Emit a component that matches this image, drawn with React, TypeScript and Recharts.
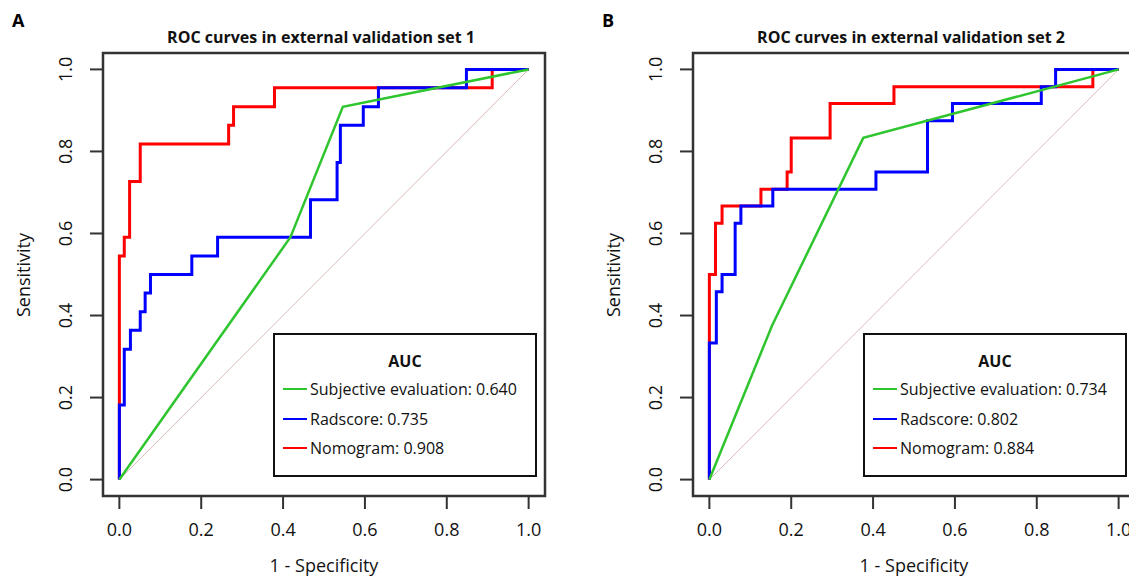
import React from "react";
import { LineChart, Line, XAxis, YAxis, ReferenceArea } from "recharts";

// ROC operating points
const nomoA_fpr = [0, 0, 0.012, 0.025, 0.051, 0.267, 0.279, 0.379, 0.911, 1];
const nomoA_tpr = [0, 0.545, 0.591, 0.727, 0.818, 0.864, 0.909, 0.955, 1, 1];
const radA_fpr = [0, 0, 0.012, 0.027, 0.051, 0.063, 0.076, 0.177, 0.24, 0.467, 0.532, 0.54, 0.596, 0.633, 0.848, 1];
const radA_tpr = [0, 0.182, 0.318, 0.364, 0.409, 0.455, 0.5, 0.545, 0.591, 0.682, 0.773, 0.864, 0.909, 0.955, 1, 1];
const subjA_fpr = [0, 0.418, 0.546, 1];
const subjA_tpr = [0, 0.591, 0.909, 1];

const nomoB_fpr = [0, 0, 0.015, 0.031, 0.126, 0.19, 0.2, 0.295, 0.451, 0.937, 1];
const nomoB_tpr = [0, 0.5, 0.625, 0.667, 0.708, 0.75, 0.833, 0.917, 0.958, 1, 1];
const radB_fpr = [0, 0, 0.017, 0.031, 0.063, 0.077, 0.155, 0.407, 0.533, 0.594, 0.811, 0.846, 1];
const radB_tpr = [0, 0.333, 0.458, 0.5, 0.625, 0.667, 0.708, 0.75, 0.875, 0.917, 0.958, 1, 1];
const subjB_fpr = [0, 0.153, 0.376, 1];
const subjB_tpr = [0, 0.375, 0.833, 1];

const chance_fpr = [0, 1];
const chance_tpr = [0, 1];

const ticks = [0, 0.2, 0.4, 0.6, 0.8, 1.0];
const aucA = { subj: "0.640", rad: "0.735", nomo: "0.908" };
const aucB = { subj: "0.734", rad: "0.802", nomo: "0.884" };

const zip = (xs: number[], ys: number[]) => xs.map((x, i) => ({ fpr: x, tpr: ys[i] }));

const FONT = "'Open Sans', sans-serif";
const GREEN = "#2fc52f";
const BLUE = "#0000ff";
const RED = "#ff0000";
const W = 560;
const H = 577;
const PLOT_LEFT = 103;
const PLOT_TOP = 53;
const PLOT_BOTTOM = 496;
const PLOT_RIGHT = 545;

function XTick(props: any) {
  return (
    <text x={props.x} y={props.y + 25} textAnchor="middle" fontSize={18} fill="#111" fontFamily={FONT}>
      {Number(props.payload.value).toFixed(1)}
    </text>
  );
}

function YTick(props: any) {
  const x = PLOT_LEFT - 31;
  return (
    <text x={x} y={props.y} transform={`rotate(-90, ${x}, ${props.y})`} textAnchor="middle" fontSize={18} fill="#111" fontFamily={FONT}>
      {Number(props.payload.value).toFixed(1)}
    </text>
  );
}

interface PanelProps {
  left: number;
  letter: string;
  title: string;
  nomo: { fpr: number; tpr: number }[];
  rad: { fpr: number; tpr: number }[];
  subj: { fpr: number; tpr: number }[];
  auc: { subj: string; rad: string; nomo: string };
}

function Panel({ left, letter, title, nomo, rad, subj, auc }: PanelProps) {
  const legendRows = [
    { color: GREEN, text: `Subjective evaluation: ${auc.subj}` },
    { color: BLUE, text: `Radscore: ${auc.rad}` },
    { color: RED, text: `Nomogram: ${auc.nomo}` },
  ];
  return (
    <div style={{ position: "absolute", left, top: 0, width: W, height: H, fontFamily: FONT }}>
      <div style={{ position: "absolute", left: 12, top: 8, fontSize: 18, fontWeight: 700, color: "#000" }}>{letter}</div>
      <div
        style={{
          position: "absolute", left: PLOT_LEFT - 3, width: PLOT_RIGHT - PLOT_LEFT, top: 26,
          textAlign: "center", fontSize: 16, fontWeight: 700, color: "#111", whiteSpace: "nowrap",
        }}
      >
        {title}
      </div>
      <LineChart
        width={W}
        height={H}
        margin={{ top: PLOT_TOP, right: W - PLOT_RIGHT, left: 0, bottom: 0 }}
      >
        <XAxis
          type="number"
          dataKey="fpr"
          domain={[-0.04, 1.04]}
          ticks={ticks}
          allowDataOverflow
          axisLine={false}
          tickLine={{ stroke: "#333", strokeWidth: 2 }}
          tickSize={13}
          tick={<XTick />}
          height={H - PLOT_BOTTOM}
        />
        <YAxis
          type="number"
          dataKey="tpr"
          domain={[-0.04, 1.04]}
          ticks={ticks}
          allowDataOverflow
          axisLine={false}
          tickLine={{ stroke: "#333", strokeWidth: 2 }}
          tickSize={13}
          tick={<YTick />}
          width={PLOT_LEFT}
        />
        <ReferenceArea x1={-0.04} x2={1.04} y1={-0.04} y2={1.04} fill="none" fillOpacity={0} stroke="#333" strokeWidth={2.5} />
        <Line data={zip(chance_fpr, chance_tpr)} dataKey="tpr" type="linear" stroke="#dcbcbc" strokeWidth={1} dot={false} isAnimationActive={false} />
        <Line data={nomo} dataKey="tpr" type="stepAfter" stroke={RED} strokeWidth={3} dot={false} isAnimationActive={false} />
        <Line data={rad} dataKey="tpr" type="stepAfter" stroke={BLUE} strokeWidth={3} dot={false} isAnimationActive={false} />
        <Line data={subj} dataKey="tpr" type="linear" stroke={GREEN} strokeWidth={2.5} dot={false} isAnimationActive={false} />
      </LineChart>
      <div
        style={{
          position: "absolute", left: 8, top: PLOT_TOP + (PLOT_BOTTOM - PLOT_TOP) / 2 - 14, width: 30, height: 28,
          display: "flex", alignItems: "center", justifyContent: "center",
        }}
      >
        <div style={{ transform: "rotate(-90deg)", fontSize: 18, color: "#111", whiteSpace: "nowrap" }}>Sensitivity</div>
      </div>
      <div
        style={{
          position: "absolute", left: PLOT_LEFT, width: PLOT_RIGHT - PLOT_LEFT, top: 553,
          textAlign: "center", fontSize: 18, color: "#111",
        }}
      >
        1 - Specificity
      </div>
      <div
        style={{
          position: "absolute", left: 273, top: 333, width: 264, height: 144, boxSizing: "border-box",
          border: "2px solid #111", background: "#fff", color: "#111",
        }}
      >
        <div style={{ position: "absolute", left: 0, right: 0, top: 15, textAlign: "center", fontWeight: 700, fontSize: 16 }}>AUC</div>
        {legendRows.map((r, i) => (
          <div key={i} style={{ position: "absolute", left: 8, top: 42 + i * 29.5, height: 24, display: "flex", alignItems: "center", fontSize: 16 }}>
            <div style={{ width: 24, height: 2, background: r.color, marginRight: 3 }} />
            <span>{r.text}</span>
          </div>
        ))}
      </div>
    </div>
  );
}

export default function App() {
  return (
    <div style={{ position: "absolute", left: 0, top: 0, width: 1129, height: 577, overflow: "hidden", background: "#fff" }}>
      <Panel
        left={0}
        letter="A"
        title="ROC curves in external validation set 1"
        nomo={zip(nomoA_fpr, nomoA_tpr)}
        rad={zip(radA_fpr, radA_tpr)}
        subj={zip(subjA_fpr, subjA_tpr)}
        auc={aucA}
      />
      <Panel
        left={590}
        letter="B"
        title="ROC curves in external validation set 2"
        nomo={zip(nomoB_fpr, nomoB_tpr)}
        rad={zip(radB_fpr, radB_tpr)}
        subj={zip(subjB_fpr, subjB_tpr)}
        auc={aucB}
      />
    </div>
  );
}
